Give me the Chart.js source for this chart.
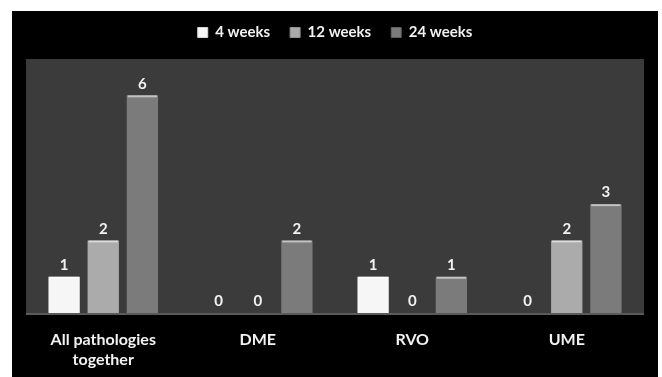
<!DOCTYPE html>
<html>
<head>
<meta charset="utf-8">
<script src="https://cdn.jsdelivr.net/npm/chart.js@4.4.1/dist/chart.umd.min.js"></script>
<style>
  html, body { margin: 0; padding: 0; background: #ffffff; }
  #wrap { position: absolute; left: 0; top: 0; width: 662px; height: 377px; }
</style>
</head>
<body>
<div id="wrap"><canvas id="c" width="662" height="377"></canvas></div>
<script>
const categories = [["All pathologies", "together"], "DME", "RVO", "UME"];
const seriesNames = ["4 weeks", "12 weeks", "24 weeks"];
const weeks4 = [1, 0, 1, 0];
const weeks12 = [2, 0, 0, 2];
const weeks24 = [6, 2, 1, 3];

const FONT = "Lato, 'Open Sans', 'DejaVu Sans', sans-serif";

// base tones for each series: [edge, centre]
const tones = [
  ["#d6d6d6", "#f6f6f6"],
  ["#8f8f8f", "#ababab"],
  ["#5f5f5f", "#7b7b7b"]
];

function barFill(i) {
  return function (ctx) {
    const chart = ctx.chart;
    const el = ctx.element;
    if (!el || el.x === undefined || !chart.chartArea) return tones[i][1];
    const w = el.width || 30;
    const g = chart.ctx.createLinearGradient(el.x - w / 2, 0, el.x + w / 2, 0);
    g.addColorStop(0, tones[i][0]);
    g.addColorStop(0.15, tones[i][1]);
    g.addColorStop(0.85, tones[i][1]);
    g.addColorStop(1, tones[i][0]);
    return g;
  };
}

// extra breathing room between the legend row and the plot
const legendGap = {
  id: "legendGap",
  beforeUpdate(chart) {
    const lg = chart.legend;
    if (lg && !lg._gapPatched) {
      const fit = lg.fit;
      lg.fit = function () {
        fit.call(this);
        this.height += 9;
      };
      lg._gapPatched = true;
    }
  }
};

// black panel and grey plot background
const backdrop = {
  id: "backdrop",
  beforeDraw(chart) {
    const c = chart.ctx, a = chart.chartArea;
    c.save();
    c.fillStyle = "#000000";
    c.fillRect(12, 11, 646, 366);
    c.fillStyle = "#3b3b3b";
    c.fillRect(a.left, a.top, a.right - a.left, a.bottom - a.top + 2);
    c.fillStyle = "#5a5a5a";
    c.fillRect(a.left, a.bottom, a.right - a.left, 2);
    c.restore();
  }
};

// value labels above each bar, plus a light top edge
const valueLabels = {
  id: "valueLabels",
  afterDatasetsDraw(chart) {
    const c = chart.ctx;
    c.save();
    chart.data.datasets.forEach((ds, di) => {
      const meta = chart.getDatasetMeta(di);
      meta.data.forEach((bar, j) => {
        const v = ds.data[j];
        if (v > 0) {
          c.fillStyle = "rgba(255,255,255,0.55)";
          c.fillRect(bar.x - bar.width / 2 + 1, bar.y, bar.width - 2, 2);
        }
        c.fillStyle = "#f2f2f2";
        c.font = "bold 15px " + FONT;
        c.textAlign = "center";
        c.textBaseline = "bottom";
        c.fillText(String(v), bar.x, bar.y - 4);
      });
    });
    c.restore();
  }
};

new Chart(document.getElementById("c"), {
  type: "bar",
  data: {
    labels: categories,
    datasets: [
      { label: seriesNames[0], data: weeks4, backgroundColor: barFill(0) },
      { label: seriesNames[1], data: weeks12, backgroundColor: barFill(1) },
      { label: seriesNames[2], data: weeks24, backgroundColor: barFill(2) }
    ]
  },
  options: {
    responsive: false,
    animation: false,
    events: [],
    layout: { padding: { left: 26, right: 18, top: 5, bottom: 6 } },
    datasets: {
      bar: { categoryPercentage: 0.76, barPercentage: 0.8 }
    },
    scales: {
      x: {
        grid: { display: false },
        border: { display: false },
        afterFit(scale) { scale.height = 58; },
        ticks: {
          color: "#f2f2f2",
          font: { family: FONT, size: 16, weight: "bold", lineHeight: 1.25 },
          padding: 9,
          maxRotation: 0
        }
      },
      y: {
        display: false,
        min: 0,
        max: 7
      }
    },
    plugins: {
      legend: {
        position: "top",
        labels: {
          color: "#f2f2f2",
          font: { family: FONT, size: 15, weight: "bold" },
          boxWidth: 10,
          boxHeight: 10,
          padding: 20,
          generateLabels(chart) {
            return seriesNames.map((n, i) => ({
              text: n,
              fillStyle: tones[i][1],
              strokeStyle: tones[i][0],
              lineWidth: 1,
              datasetIndex: i,
              fontColor: "#f2f2f2"
            }));
          }
        }
      },
      tooltip: { enabled: false }
    }
  },
  plugins: [legendGap, backdrop, valueLabels]
});
</script>
</body>
</html>
